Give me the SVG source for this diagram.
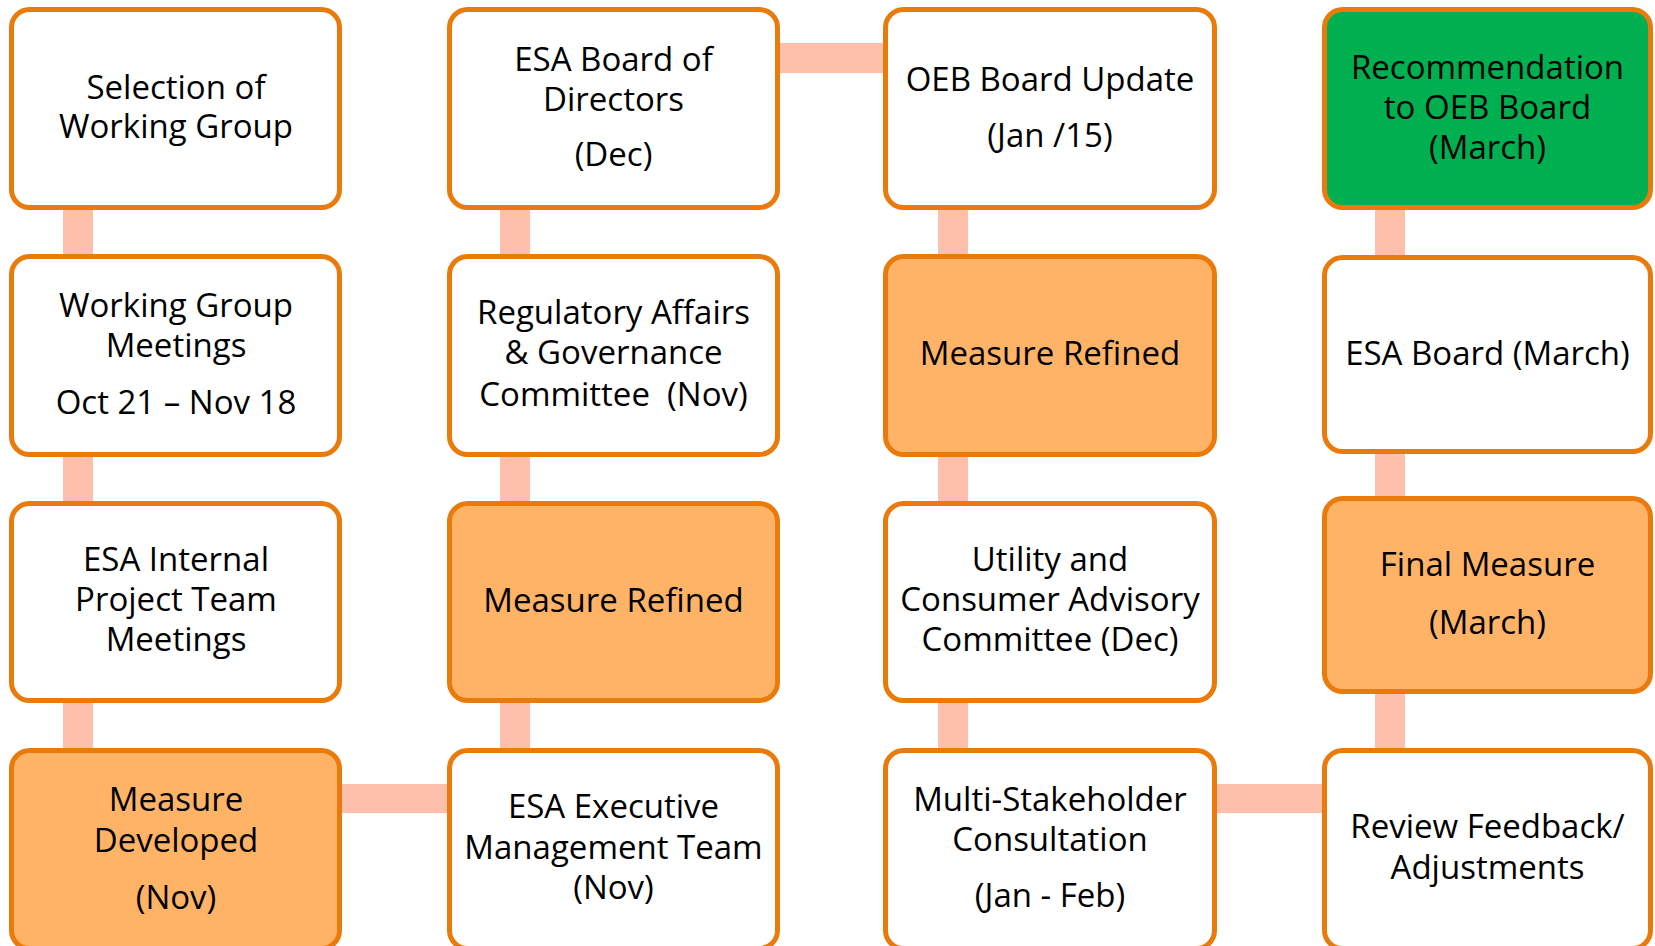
<svg xmlns="http://www.w3.org/2000/svg" width="1655" height="946" viewBox="0 0 1655 946">
<style>
.box{stroke:#E97B0C;stroke-width:5;fill:#FFFFFF}
.hl{fill:#FFB366}
.gr{fill:#00B050}
.conn{fill:#FEC0AA}
text{font-family:"Open Sans","Noto Sans",sans-serif;font-size:33px;fill:#000;text-anchor:middle}
</style>
<rect width="1655" height="946" fill="#FFFFFF"/>
<g id="connectors">
<rect class="conn" x="63" y="205" width="30" height="55"/>
<rect class="conn" x="63" y="452" width="30" height="55"/>
<rect class="conn" x="63" y="697" width="30" height="56"/>
<rect class="conn" x="500" y="205" width="30" height="55"/>
<rect class="conn" x="500" y="452" width="30" height="55"/>
<rect class="conn" x="500" y="697" width="30" height="56"/>
<rect class="conn" x="938" y="205" width="30" height="55"/>
<rect class="conn" x="938" y="452" width="30" height="55"/>
<rect class="conn" x="938" y="697" width="30" height="56"/>
<rect class="conn" x="1375" y="205" width="30" height="55"/>
<rect class="conn" x="1375" y="450" width="30" height="52"/>
<rect class="conn" x="1375" y="690" width="30" height="63"/>
<rect class="conn" x="776" y="43" width="112" height="30"/>
<rect class="conn" x="338" y="784" width="114" height="29"/>
<rect class="conn" x="1213" y="784" width="114" height="29"/>
</g>
<g id="n1">
<rect class="box" x="11.5" y="9.5" width="328" height="198" rx="18"/>
<text x="176" y="99">Selection of</text>
<text x="176" y="138">Working Group</text>
</g>
<g id="n2">
<rect class="box" x="11.5" y="256.5" width="328" height="198" rx="18"/>
<text x="176" y="317">Working Group</text>
<text x="176" y="357">Meetings</text>
<text x="176" y="414">Oct 21 – Nov 18</text>
</g>
<g id="n3">
<rect class="box" x="11.5" y="503.5" width="328" height="197" rx="18"/>
<text x="176" y="571">ESA Internal</text>
<text x="176" y="611">Project Team</text>
<text x="176" y="651">Meetings</text>
</g>
<g id="n4">
<rect class="box hl" x="11.5" y="750.5" width="328" height="198" rx="18"/>
<text x="176" y="811">Measure</text>
<text x="176" y="852">Developed</text>
<text x="176" y="909">(Nov)</text>
</g>
<g id="n5">
<rect class="box" x="449.5" y="750.5" width="328" height="198" rx="18"/>
<text x="613.5" y="818">ESA Executive</text>
<text x="613.5" y="859">Management Team</text>
<text x="613.5" y="899">(Nov)</text>
</g>
<g id="n6">
<rect class="box hl" x="449.5" y="503.5" width="328" height="197" rx="18"/>
<text x="613.5" y="612">Measure Refined</text>
</g>
<g id="n7">
<rect class="box" x="449.5" y="256.5" width="328" height="198" rx="18"/>
<text x="613.5" y="324">Regulatory Affairs</text>
<text x="613.5" y="364">&amp; Governance</text>
<text x="613.5" y="406" xml:space="preserve">Committee  (Nov)</text>
</g>
<g id="n8">
<rect class="box" x="449.5" y="9.5" width="328" height="198" rx="18"/>
<text x="613.5" y="71">ESA Board of</text>
<text x="613.5" y="111">Directors</text>
<text x="613.5" y="166">(Dec)</text>
</g>
<g id="n9">
<rect class="box" x="885.5" y="9.5" width="329" height="198" rx="18"/>
<text x="1050" y="91">OEB Board Update</text>
<text x="1050" y="147">(Jan /15)</text>
</g>
<g id="n10">
<rect class="box hl" x="885.5" y="256.5" width="329" height="198" rx="18"/>
<text x="1050" y="365">Measure Refined</text>
</g>
<g id="n11">
<rect class="box" x="885.5" y="503.5" width="329" height="197" rx="18"/>
<text x="1050" y="571">Utility and</text>
<text x="1050" y="611">Consumer Advisory</text>
<text x="1050" y="651">Committee (Dec)</text>
</g>
<g id="n12">
<rect class="box" x="885.5" y="750.5" width="329" height="198" rx="18"/>
<text x="1050" y="811">Multi-Stakeholder</text>
<text x="1050" y="851">Consultation</text>
<text x="1050" y="907">(Jan - Feb)</text>
</g>
<g id="n13">
<rect class="box" x="1324.5" y="750.5" width="326" height="198" rx="18"/>
<text x="1487.5" y="838">Review Feedback/</text>
<text x="1487.5" y="879">Adjustments</text>
</g>
<g id="n14">
<rect class="box hl" x="1324.5" y="498.5" width="326" height="193" rx="18"/>
<text x="1487.5" y="576">Final Measure</text>
<text x="1487.5" y="634">(March)</text>
</g>
<g id="n15">
<rect class="box" x="1324.5" y="257.5" width="326" height="194" rx="18"/>
<text x="1487.5" y="365">ESA Board (March)</text>
</g>
<g id="n16">
<rect class="box gr" x="1324.5" y="9.5" width="326" height="198" rx="18"/>
<text x="1487.5" y="79">Recommendation</text>
<text x="1487.5" y="119">to OEB Board</text>
<text x="1487.5" y="159">(March)</text>
</g>
</svg>
